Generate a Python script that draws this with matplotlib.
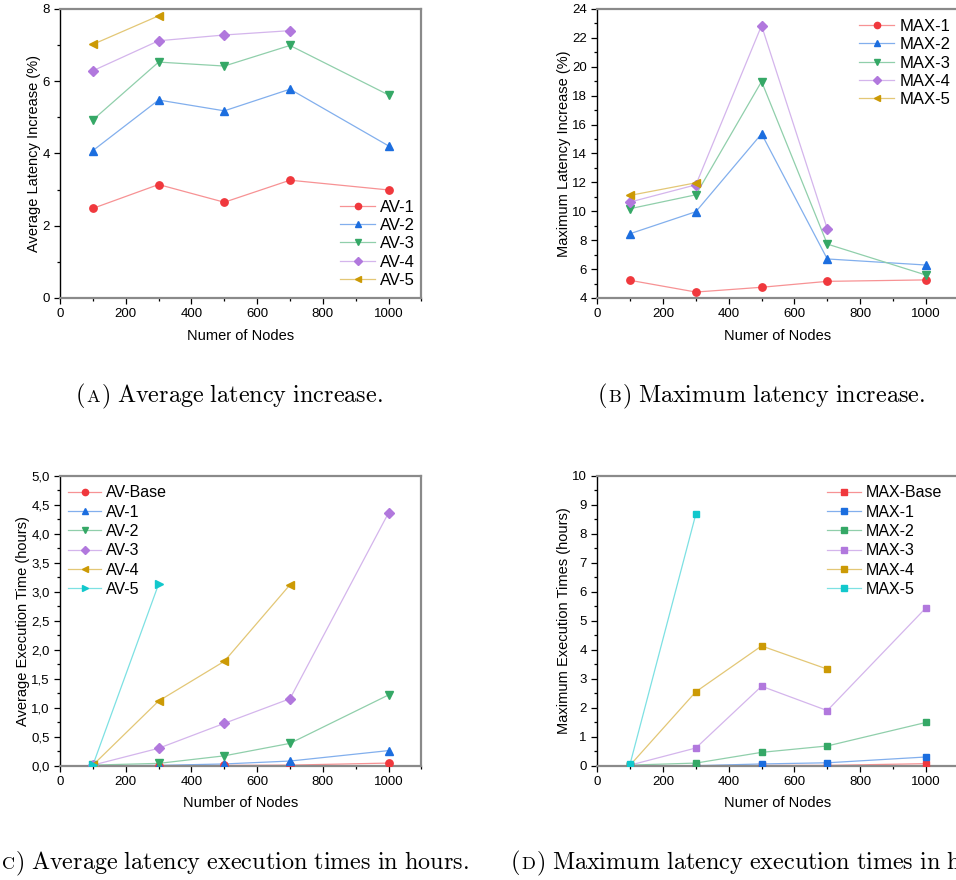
"""Latency increase and execution time panels (A-D)."""

import matplotlib
matplotlib.use("Agg")
import matplotlib.pyplot as plt
from matplotlib.colors import to_rgb
from matplotlib.lines import Line2D
from matplotlib.ticker import MultipleLocator, FuncFormatter

plt.rcParams["font.family"] = ["Liberation Sans", "DejaVu Sans"]
plt.rcParams["mathtext.fontset"] = "cm"

nodes = [100, 300, 500, 700, 1000]

# (A) average latency increase (%)
av_labels = ["AV-1", "AV-2", "AV-3", "AV-4", "AV-5"]
av_inc = [
    [2.48, 3.14, 2.65, 3.26, 2.99],
    [4.08, 5.48, 5.18, 5.78, 4.21],
    [4.93, 6.53, 6.42, 6.99, 5.62],
    [6.29, 7.12, 7.28, 7.40],
    [7.02, 7.81],
]

# (B) maximum latency increase (%)
max_labels = ["MAX-1", "MAX-2", "MAX-3", "MAX-4", "MAX-5"]
max_inc = [
    [5.22, 4.41, 4.74, 5.15, 5.25],
    [8.45, 9.97, 15.36, 6.70, 6.28],
    [10.18, 11.14, 18.98, 7.73, 5.59],
    [10.64, 11.83, 22.85, 8.79],
    [11.10, 11.97],
]

# (C) average execution time (hours)
av_time_labels = ["AV-Base", "AV-1", "AV-2", "AV-3", "AV-4", "AV-5"]
av_time = [
    [0.0, 0.002, 0.005, 0.01, 0.045],
    [0.0, 0.005, 0.03, 0.08, 0.26],
    [0.01, 0.04, 0.17, 0.385, 1.22],
    [0.01, 0.30, 0.73, 1.155, 4.36],
    [0.01, 1.115, 1.80, 3.12],
    [0.01, 3.13],
]

# (D) maximum execution time (hours)
max_time_labels = ["MAX-Base", "MAX-1", "MAX-2", "MAX-3", "MAX-4", "MAX-5"]
max_time = [
    [0.0, 0.0, 0.01, 0.01, 0.07],
    [0.0, 0.0, 0.06, 0.10, 0.30],
    [0.02, 0.09, 0.46, 0.68, 1.49],
    [0.02, 0.61, 2.74, 1.90, 5.44],
    [0.02, 2.55, 4.13, 3.33],
    [0.07, 8.68],
]

red, blue, green = "#F0383D", "#1C6EDF", "#35A866"
purple, gold, cyan = "#B178DD", "#CC9A05", "#12C8CC"


def faded(col, k=0.55):
    r, g, b = to_rgb(col)
    return (1 - k + k * r, 1 - k + k * g, 1 - k + k * b)


def style_axes(ax, ymin, ymax, ymajor, yminor, ylabel, xlabel, comma=False):
    ax.set_xlim(0, 1100)
    ax.set_ylim(ymin, ymax)
    ax.xaxis.set_major_locator(MultipleLocator(200))
    ax.xaxis.set_minor_locator(MultipleLocator(100))
    ax.yaxis.set_major_locator(MultipleLocator(ymajor))
    ax.yaxis.set_minor_locator(MultipleLocator(yminor))
    if comma:
        ax.yaxis.set_major_formatter(FuncFormatter(lambda v, p: f"{v:.1f}".replace(".", ",")))
    ax.tick_params(which="both", direction="out", labelsize=9.5, length=4, width=0.9)
    ax.tick_params(which="minor", length=2.5)
    ax.tick_params(top=False, right=False)
    for side in ("top", "bottom", "right"):
        ax.spines[side].set_color("#8a8a8a")
        ax.spines[side].set_linewidth(1.6)
    ax.spines["left"].set_color("black")
    ax.spines["left"].set_linewidth(1.0)
    ax.set_xlabel(xlabel, fontsize=10.5, labelpad=6)
    ax.set_ylabel(ylabel, fontsize=10.5, labelpad=1)


def draw_series(ax, series, labels, colors, markers, sizes):
    handles = []
    for vals, lab, col, mk, ms in zip(series, labels, colors, markers, sizes):
        xs = nodes[:len(vals)]
        ax.plot(xs, vals, color=faded(col), lw=0.9, zorder=2)
        ax.plot(xs, vals, ls="none", marker=mk, ms=ms, color=col, mec=col, zorder=3)
        handles.append(Line2D([], [], color=faded(col), lw=0.9, marker=mk,
                              ms=ms * 0.85, mfc=col, mec=col, label=lab))
    return handles


def add_legend(ax, handles, loc, anchor, size=12, spacing=0.2):
    return ax.legend(handles=handles, loc=loc, bbox_to_anchor=anchor, frameon=False,
                     fontsize=size, handlelength=2.1, labelspacing=spacing,
                     handletextpad=0.3, borderaxespad=0.2)


fig = plt.figure(figsize=(9.56, 8.80), dpi=100)
ax_a = fig.add_axes([0.0628, 0.6614, 0.378, 0.3284])
ax_b = fig.add_axes([0.6248, 0.6614, 0.378, 0.3284])
ax_c = fig.add_axes([0.0628, 0.1299, 0.378, 0.3295])
ax_d = fig.add_axes([0.6248, 0.1299, 0.378, 0.3295])

five_colors = [red, blue, green, purple, gold]
five_markers = ["o", "^", "v", "D", "<"]
five_sizes = [5.3, 5.8, 5.8, 4.6, 5.8]
six_colors = [red, blue, green, purple, gold, cyan]

h = draw_series(ax_a, av_inc, av_labels, five_colors, five_markers, five_sizes)
style_axes(ax_a, 0, 8, 2, 1, "Average Latency Increase (%)", "Numer of Nodes")
add_legend(ax_a, h, "lower right", (1.01, 0.0))

h = draw_series(ax_b, max_inc, max_labels, five_colors, five_markers, five_sizes)
style_axes(ax_b, 4, 24, 2, 1, "Maximum Latency Increase (%)", "Numer of Nodes")
add_legend(ax_b, h, "upper right", (1.005, 1.0))

h = draw_series(ax_c, av_time, av_time_labels, six_colors,
                ["o", "^", "v", "D", "<", ">"], five_sizes + [5.8])
style_axes(ax_c, 0, 5, 0.5, 0.25, "Average Execution Time (hours)", "Number of Nodes",
           comma=True)
add_legend(ax_c, h, "upper left", (-0.005, 1.0), size=11.5, spacing=0.27)

h = draw_series(ax_d, max_time, max_time_labels, six_colors, ["s"] * 6, [4.6] * 6)
style_axes(ax_d, 0, 10, 1, 0.5, "Maximum Execution Times (hours)", "Numer of Nodes")
add_legend(ax_d, h, "upper right", (0.98, 1.0), size=11.5, spacing=0.27)


def caption(x_px, y_px, letter, rest, size=17.4):
    # small-caps letter inside parentheses, Computer Modern look via mathtext
    renderer = fig.canvas.get_renderer()
    x = x_px
    pieces = [("$($", size), (f"$\\mathrm{{{letter}}}$", size * 0.75), ("$)$", size),
              ("$\\mathrm{" + rest.replace(" ", "\\ ") + "}$", size)]
    for i, (txt, sz) in enumerate(pieces):
        t = fig.text(x / 956, 1 - y_px / 880, txt, fontsize=sz, va="baseline", ha="left")
        bb = t.get_window_extent(renderer)
        x += bb.width + (7 if i == 2 else 0.5)


caption(75, 402, "A", "Average latency increase.")
caption(597, 402, "B", "Maximum latency increase.")
caption(-10, 869, "C", "Average latency execution times in hours.")
caption(510, 869, "D", "Maximum latency execution times in hours.")

fig.savefig("out.png", dpi=100)
